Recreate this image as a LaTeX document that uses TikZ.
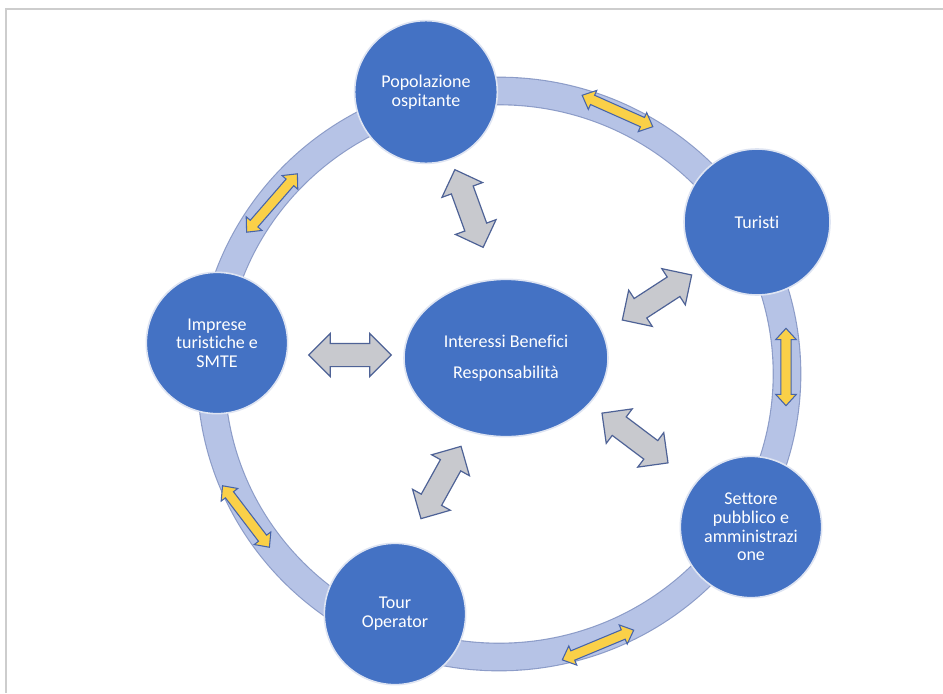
\documentclass[tikz,border=0pt]{standalone}
\usepackage{fontspec}
\setmainfont{Carlito}[Ligatures={NoCommon}]
\usetikzlibrary{shapes.arrows,shapes.geometric}
\definecolor{framegray}{RGB}{205,205,205}
\definecolor{ringfill}{RGB}{182,195,230}
\definecolor{ringedge}{RGB}{140,156,200}
\definecolor{nodeblue}{RGB}{68,114,196}
\definecolor{nodeedge}{RGB}{222,228,242}
\definecolor{arrowgray}{RGB}{200,201,206}
\definecolor{arrowedge}{RGB}{78,98,150}
\definecolor{ringyellow}{RGB}{250,208,72}
\definecolor{yellowedge}{RGB}{70,100,170}
\tikzset{
  stake/.style={circle, fill=nodeblue, draw=nodeedge, line width=1.2pt, text=white,
    align=center, inner sep=0pt, font=\fontsize{13.5}{14}\selectfont},
  core/.style={ellipse, fill=nodeblue, draw=nodeedge, line width=1.2pt, text=white,
    align=center, inner sep=0pt, minimum width=153pt, minimum height=118pt,
    font=\fontsize{13.5}{14}\selectfont},
  linkarrow/.style={double arrow, fill=arrowgray, draw=arrowedge, line width=0.9pt,
    inner xsep=0pt, inner ysep=8.25pt, minimum height=62pt,
    double arrow head extend=7.5pt, double arrow tip angle=90},
  ringarrow/.style={double arrow, fill=ringyellow, draw=yellowedge, line width=0.8pt,
    inner xsep=0pt, inner ysep=3.4pt, minimum height=58pt,
    double arrow head extend=4pt, double arrow tip angle=85}
}
\begin{document}
\begin{tikzpicture}[x=0.75pt,y=-0.75pt]
\useasboundingbox (0,0) rectangle (943,693);
\fill[white] (0,0) rectangle (943,693);
\draw[framegray, line width=0.8pt] (6,693) -- (6,9) -- (943,9);

% ring
\draw[ringedge, line width=21.5pt] (499,374) ellipse [x radius=216pt, y radius=212.25pt];
\draw[ringfill, line width=19.8pt] (499,374) ellipse [x radius=216pt, y radius=212.25pt];

% yellow arrows on the ring
\node[ringarrow, rotate=-24] (y1) at (617.5,111) {};
\node[ringarrow, rotate=90] (y2) at (786,367) {};
\node[ringarrow, rotate=22.6] (y3) at (598,645) {};
\node[ringarrow, rotate=-52.7] (y4) at (246,516.5) {};
\node[ringarrow, rotate=49] (y5) at (272,203) {};

% stakeholder circles
\node[stake, minimum size=107pt] (pop) at (426,92) {Popolazione\\ospitante};
\node[stake, minimum size=109.5pt] (tur) at (757,222) {Turisti};
\node[stake, minimum size=106pt] (imp) at (217,343) {Imprese\\turistiche e\\SMTE};
\node[stake, minimum size=106pt] (tour) at (395,614) {Tour\\Operator};
\node[stake, minimum size=106pt] (set) at (751,527) {Settore\\pubblico e\\amministrazi\\one};

% centre
\node[core] (core) at (506,358) {Interessi Benefici\\[9pt]Responsabilità};

% grey links
\node[linkarrow, rotate=-70] (g1) at (469,208.5) {};
\node[linkarrow, rotate=33] (g2) at (657,297.5) {};
\node[linkarrow, rotate=0] (g3) at (350,355) {};
\node[linkarrow, rotate=61] (g4) at (441,482.5) {};
\node[linkarrow, rotate=-37] (g5) at (635,438) {};
\end{tikzpicture}
\end{document}
